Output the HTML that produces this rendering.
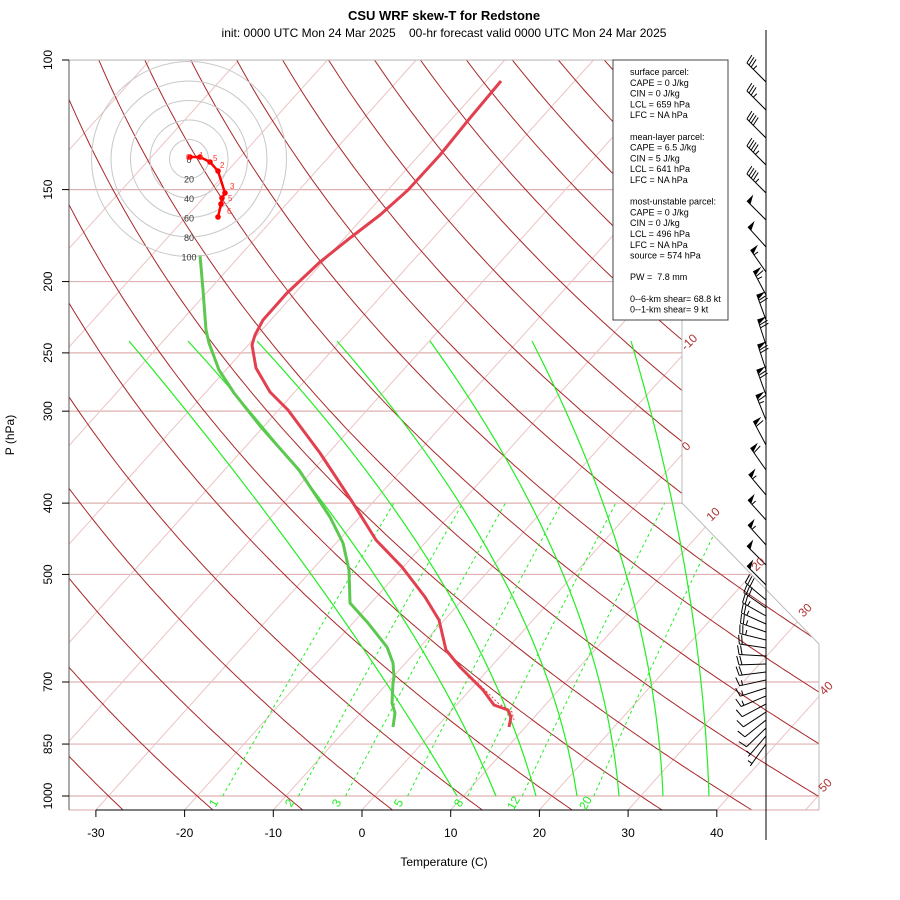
<!DOCTYPE html>
<html><head><meta charset="utf-8"><style>
html,body{margin:0;padding:0;background:#fff}
svg{display:block;font-family:"Liberation Sans",Arial,sans-serif}
text{white-space:pre}
</style></head><body>
<svg id="s" width="900" height="900" viewBox="0 0 900 900" xmlns="http://www.w3.org/2000/svg">
<defs><clipPath id="pc"><polygon points="69,60 682,60 682,503 819,644 819,810 69,810"/></clipPath></defs>
<g id="grid" clip-path="url(#pc)"></g>
<polyline points="69,60 682,60 682,503 819,644 819,810" fill="none" stroke="#bbb" stroke-width="1"/>
<line x1="69" y1="810" x2="819" y2="810" stroke="#d8a8a8" stroke-width="1"/>
<g id="prof"></g>
<g id="hodo"></g>
<g id="barbs"></g>
<g id="txt"></g>
</svg>
<script>
var NS="http://www.w3.org/2000/svg";
function el(par,tag,attrs,text){var e=document.createElementNS(NS,tag);for(var k in attrs)e.setAttribute(k,attrs[k]);if(text!==undefined)e.textContent=text;document.getElementById(par).appendChild(e);return e;}
function Y(p){return 60+Math.log10(p/100)*736;}
function X(T,y){return 362+8.87*T+0.9*(810-y);}
[100,150,200,250,300,400,500,700,850,1000].forEach(function(p){var y=Y(p);el("grid","line",{x1:69,y1:y,x2:830,y2:y,stroke:"#dfb0b0","stroke-width":1.2});});
for(var T=-120;T<=60;T+=10){var x0=362+8.87*T;el("grid","line",{x1:x0,y1:810,x2:x0+675,y2:60,stroke:"#ebc4c4","stroke-width":1});}
for(var th=-40;th<=220;th+=10){var pts=[];for(var p=1060;p>=95;p-=5){var t=(th+273.15)*Math.pow(p/1000,0.2857)-273.15;var y=Y(p);pts.push(X(t,y).toFixed(1)+","+y.toFixed(1));}
el("grid","polyline",{points:pts.join(" "),fill:"none",stroke:"#a8282a","stroke-width":1});}
[1,2,3,5,8,12,20].forEach(function(w){var pts=[];for(var p=1000;p>=400;p-=10){var e=w*p/(622+w);var l=Math.log(e/6.112);var td=243.5*l/(17.67-l);var y=Y(p);pts.push(X(td,y).toFixed(1)+","+y.toFixed(1));}
el("grid","polyline",{points:pts.join(" "),fill:"none",stroke:"#22ee22","stroke-width":1,"stroke-dasharray":"3,3"});});
var topX=[129,188,257,337,430,532,631],midX=[311,374,437,501,563,626,686],botX=[457,496,536,577,619,663,709];
for(var i=0;i<7;i++){var cx=2*midX[i]-(topX[i]+botX[i])/2,cy=2*574-(341+796)/2;
el("grid","path",{d:"M"+topX[i]+",341 Q"+cx+","+cy+" "+botX[i]+",796",fill:"none",stroke:"#22ee22","stroke-width":1.2});}
var red="501,81 470,118 440,155 408,190 380,215 350,238 320,262 287,293 263,320 255,335 252,345 256,368 270,392 288,410 320,453 353,503 376,540 402,567 425,597 439,620 446,650 460,667 483,690 494,705 508,710 511,717 509,727";
var grn="200,255 203,290 206,330 209,343 219,370 234,393 261,427 299,470 330,517 343,543 349,570 350,603 368,623 387,647 393,663 394,677 393,683 392,703 395,713 393,727";
el("prof","polyline",{points:"446,652 462,668 485,690 498,703 512,712 514,720",fill:"none",stroke:"#e0404f","stroke-width":1,"stroke-dasharray":"2,2"});
el("prof","polyline",{points:red,fill:"none",stroke:"#e2404f","stroke-width":3,"stroke-linejoin":"round"});
el("prof","polyline",{points:grn,fill:"none",stroke:"#5cc850","stroke-width":3,"stroke-linejoin":"round"});
var hx=189,hy=159;
for(var k=1;k<=5;k++)el("hodo","circle",{cx:hx,cy:hy,r:19.5*k,fill:"none",stroke:"#c8c8c8","stroke-width":1});
["0","20","40","60","80","100"].forEach(function(t,k){el("hodo","text",{x:hx,y:hy+19.5*k+4,"font-size":9,"text-anchor":"middle",fill:"#333"},t);});
var hp=[[190,157],[200,157],[210,162],[218,171],[225,193],[222,198],[221,204],[218,217]];
el("hodo","polyline",{points:hp.map(function(p){return p.join(",")}).join(" "),fill:"none",stroke:"#f00","stroke-width":2.5});
hp.forEach(function(p){el("hodo","circle",{cx:p[0],cy:p[1],r:2.8,fill:"#f00"});});
[["0",186,160],["1",199,158],["5",213,161],["2",220,168],["3",230,189],["5",228,201],["6",227,214]].forEach(function(a){el("hodo","text",{x:a[1],y:a[2],"font-size":8,fill:"#f33"},a[0]);});
el("barbs","line",{x1:766,y1:30,x2:766,y2:840,stroke:"#000","stroke-width":1});
function barb(by,ang,kt){var a=ang*Math.PI/180,dx=-Math.cos(a),dy=-Math.sin(a);var L=27,tx=766+dx*L,ty=by+dy*L;
el("barbs","line",{x1:766,y1:by,x2:tx,y2:ty,stroke:"#000","stroke-width":1});
var fx=-dy,fy=dx;var pos=0,n=Math.round(kt/5)*5;
while(n>=50){var p1x=tx-dx*pos,p1y=ty-dy*pos,p2x=tx-dx*(pos+5),p2y=ty-dy*(pos+5);
el("barbs","polygon",{points:p1x+","+p1y+" "+p2x+","+p2y+" "+(p1x+fx*9)+","+(p1y+fy*9),fill:"#000"});pos+=6;n-=50;}
while(n>=10){var qx=tx-dx*pos,qy=ty-dy*pos;el("barbs","line",{x1:qx,y1:qy,x2:qx+fx*9+dx*2,y2:qy+fy*9+dy*2,stroke:"#000","stroke-width":1});pos+=3;n-=10;}
if(n>=5){if(pos==0)pos=3;var qx=tx-dx*pos,qy=ty-dy*pos;el("barbs","line",{x1:qx,y1:qy,x2:qx+fx*5,y2:qy+fy*5,stroke:"#000","stroke-width":1});}}
var B=[[82,45,35],[110,45,35],[138,45,40],[165,45,45],[193,45,45],[220,45,50],[247,48,50],[272,55,55],[295,62,65],[320,70,70],[345,72,70],[370,72,70],[395,70,70],[420,68,65],[445,62,60],[470,55,60],[495,50,55],[520,48,55],[545,48,55],[565,45,50],[585,45,50]];
B.forEach(function(b){barb(b[0],b[1],b[2]);});
for(var y=600;y<=745;y+=8){var f=(y-600)/145;barb(y,40-f*95,Math.max(5,30-f*25));}
function tx(x,y,s,t,extra){var a={x:x,y:y,"font-size":s,fill:"#000"};for(var k in extra)a[k]=extra[k];return el("txt","text",a,t);}
tx(444,20,13,"CSU WRF skew-T for Redstone",{"text-anchor":"middle","font-weight":"bold"});
tx(444,37,12,"init: 0000 UTC Mon 24 Mar 2025    00-hr forecast valid 0000 UTC Mon 24 Mar 2025",{"text-anchor":"middle"});
el("txt","line",{x1:69,y1:60,x2:69,y2:810,stroke:"#555","stroke-width":1});
[100,150,200,250,300,400,500,700,850,1000].forEach(function(p){var y=Y(p);el("txt","line",{x1:62,y1:y,x2:69,y2:y,stroke:"#000"});tx(52,y,12,String(p),{"text-anchor":"middle",transform:"rotate(-90 52 "+y+")"});});
el("txt","line",{x1:96,y1:810,x2:717,y2:810,stroke:"#000"});
for(var t=-30;t<=40;t+=10){var x=362+8.87*t;el("txt","line",{x1:x,y1:810,x2:x,y2:817,stroke:"#000"});tx(x,837,12,String(t),{"text-anchor":"middle"});}
tx(444,866,12,"Temperature (C)",{"text-anchor":"middle"});
tx(14,435,12,"P (hPa)",{"text-anchor":"middle",transform:"rotate(-90 14 435)"});
[["-10",692,345],["0",689,449],["10",716,517],["20",761,567],["30",808,613],["40",829,691],["50",828,788]].forEach(function(a){tx(a[1],a[2],12,a[0],{fill:"#b03030","text-anchor":"middle",transform:"rotate(-45 "+a[1]+" "+a[2]+")"});});
[["1",217,805],["2",293,805],["3",340,805],["5",402,805],["8",462,805],["12",517,805],["20",589,805]].forEach(function(a){tx(a[1],a[2],12,a[0],{fill:"#22ee22","text-anchor":"middle",transform:"rotate(-60 "+a[1]+" "+a[2]+")"});});
el("txt","rect",{x:613,y:60,width:115,height:260,fill:"#fff",stroke:"#444","stroke-width":1});
var lines=["surface parcel:","CAPE = 0 J/kg","CIN = 0 J/kg","LCL = 659 hPa","LFC = NA hPa","","mean-layer parcel:","CAPE = 6.5 J/kg","CIN = 5 J/kg","LCL = 641 hPa","LFC = NA hPa","","most-unstable parcel:","CAPE = 0 J/kg","CIN = 0 J/kg","LCL = 496 hPa","LFC = NA hPa","source = 574 hPa","","PW =  7.8 mm","","0--6-km shear= 68.8 kt","0--1-km shear= 9 kt"];
lines.forEach(function(l,i){if(l)tx(630,75+i*10.8,9,l);});
</script>
</body></html>
